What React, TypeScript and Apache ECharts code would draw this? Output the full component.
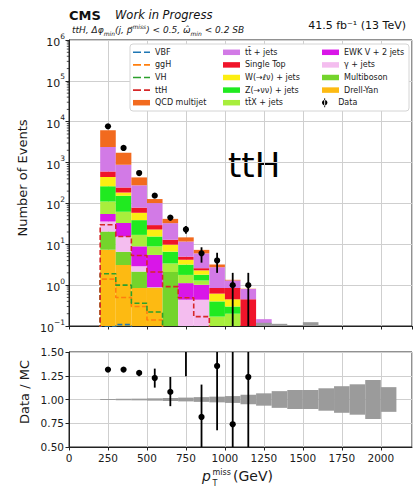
import React, { useEffect, useRef } from 'react';
import * as echarts from 'echarts';

// ---------- data ----------
const binLo = [200, 300, 400, 500, 600, 700, 800, 900, 1000, 1100, 1200];
const BIN_W = 100;

// stacked backgrounds, bottom -> top
const drellYan = [7.4, 3.1, 0.85, 0.85, 0.05, 0, 0, 0, 0, 0, 0];
const multiboson = [13.2, 3.5, 1.3, 0.02, 2.05, 0, 0, 0, 0, 0, 0];
const gammaJets = [15.4, 8.9, 0.75, 0.02, 0, 0.44, 0.44, 0, 0, 0, 0];
const ewkV2Jets = [19, 17.5, 6.0, 4.6, 0, 0.68, 0.58, 0, 0, 0, 0];
const ttXJets = [57, 30, 8.1, 3.4, 1.3, 0.66, 0.28, 0.17, 0.2, 0, 0];
const zNuNuJets = [150, 92, 22, 6.6, 3.2, 1.4, 0.5, 0.23, 0.1, 0, 0];
const wLNuJets = [181, 31, 20, 7.5, 3.2, 1.0, 0.5, 0.22, 0.15, 0, 0];
const singleTop = [162, 60, 20, 6.5, 3.1, 0.8, 0.3, 0.23, 0.4, 0.45, 0];
const ttJets = [1795, 644, 199, 72.5, 20, 6.7, 3.4, 1.9, 0.45, 0.35, 0.147];
const qcdMultijet = [3750, 840, 155, 26, 9, 3.1, 1.3, 0.45, 0.05, 0.02, 0];

// grey MC uncertainty visible at the top panel floor
const uncLo = [1200, 1300, 1500];
const uncTop = [0.12, 0.113, 0.124];

// signals (dashed step lines), starting at bin 200
const vbfSig = [0.095, 0.108, 0.09];
const ggHSig = [1.4, 0.5, 0.3, 0.14];
const vhSig = [1.9, 1.0, 0.36, 0.22];
const tthSig = [30, 15.5, 5.3, 2.1, 0.92, 0.49, 0.17];

// data
const dataX = [250, 350, 450, 550, 650, 750, 850, 950, 1050, 1150];
const dataY = [7700, 2280, 555, 155, 45, 23, 6, 4, 1, 1];
const dataLo = [7610, 2230, 530, 142, 38, 18, 3.55, 2.0, 0.05, 0.05];
const dataHi = [7790, 2330, 580, 168, 52, 28, 8.45, 6.2, 2.0, 2.0];

// ratio panel
const ratioY = [1.315, 1.315, 1.28, 1.226, 1.08, 1.6, 0.816, 1.353, 0.739, 1.237];
const ratioLo = [1.305, 1.305, 1.245, 1.125, 0.93, 1.244, 0.4, 0.676, 0.1, 0.1];
const ratioHi = [1.325, 1.325, 1.305, 1.325, 1.237, 2.0, 1.157, 2.2, 2.5, 3.0];
const bandLo = [200, 300, 400, 500, 600, 700, 800, 900, 1000, 1100, 1200, 1300, 1400, 1500, 1600, 1700, 1800, 1900, 2000];
const bandHalf = [0.005, 0.007, 0.009, 0.012, 0.016, 0.02, 0.025, 0.03, 0.036, 0.05, 0.065, 0.088, 0.1, 0.1, 0.118, 0.14, 0.16, 0.205, 0.13];

// axes
const Y_MIN = 0.1;
const Y_MAX = 1e6;
const X_MAX = 2200;
const FLOOR = 0.08;
const FONT = 'DejaVu Sans';
const TXT = '#1a1a1a';

const stackDefs = [
  { name: 'Drell-Yan', values: drellYan, color: '#fdba12' },
  { name: 'Multiboson', values: multiboson, color: '#74d42c' },
  { name: 'γ + jets', values: gammaJets, color: '#f4bdef' },
  { name: 'EWK V + 2 jets', values: ewkV2Jets, color: '#d916e8' },
  { name: 'tt̄X + jets', values: ttXJets, color: '#a8ee3c' },
  { name: 'Z(→νν) + jets', values: zNuNuJets, color: '#20ea20' },
  { name: 'W(→ℓν) + jets', values: wLNuJets, color: '#fcee12' },
  { name: 'Single Top', values: singleTop, color: '#f0142a' },
  { name: 'tt̄ + jets', values: ttJets, color: '#d27ae6' },
  { name: 'QCD multijet', values: qcdMultijet, color: '#f26a1e' },
];

const signalDefs = [
  { name: 'VBF', values: vbfSig, color: '#1f77b4' },
  { name: 'ggH', values: ggHSig, color: '#ff7f0e' },
  { name: 'VH', values: vhSig, color: '#2ca02c' },
  { name: 'ttH', values: tthSig, color: '#d62728' },
];

const DASH_ICON = 'path://M0,0h8v1.6h-8z M11,0h6v1.6h-6z';
const DATA_ICON = 'path://M2.5,0h1v10h-1z M3,2a3,3 0 1,0 0.001,0z';

function rectRenderer(color: string, yIdxMin: number) {
  return (params: any, api: any) => {
    const x0 = api.value(0);
    const x1 = api.value(1);
    const b = Math.max(api.value(2), yIdxMin);
    const t = api.value(3);
    if (!(t > yIdxMin)) return { type: 'group', children: [] };
    const p0 = api.coord([x0, b]);
    const p1 = api.coord([x1, t]);
    return {
      type: 'rect',
      shape: { x: p0[0], y: p1[1], width: p1[0] - p0[0], height: p0[1] - p1[1] },
      style: { fill: color },
    };
  };
}

function pointRenderer(params: any, api: any) {
  const x = api.value(0);
  const pc = api.coord([x, api.value(1)]);
  const pl = api.coord([x, api.value(2)]);
  const ph = api.coord([x, api.value(3)]);
  return {
    type: 'group',
    children: [
      { type: 'line', shape: { x1: pc[0], y1: pl[1], x2: pc[0], y2: ph[1] }, style: { stroke: '#000', lineWidth: 1.8 } },
      { type: 'circle', shape: { cx: pc[0], cy: pc[1], r: 3.1 }, style: { fill: '#000' } },
    ],
  };
}

function buildOption() {
  const cum = binLo.map(() => 0);
  const stackSeries = stackDefs.map((def) => {
    const data: number[][] = [];
    binLo.forEach((lo, i) => {
      const b = cum[i];
      const t = b + def.values[i];
      cum[i] = t;
      if (t > b) data.push([lo, lo + BIN_W, b, t]);
    });
    return {
      type: 'custom', name: def.name, xAxisIndex: 0, yAxisIndex: 0,
      itemStyle: { color: def.color }, renderItem: rectRenderer(def.color, Y_MIN),
      data, encode: { x: 0, y: 3 }, silent: true, z: 2, clip: true,
    };
  });

  const uncSeries = {
    type: 'custom', name: '_unc', xAxisIndex: 0, yAxisIndex: 0,
    renderItem: rectRenderer('#9a9a9a', Y_MIN),
    data: uncLo.map((lo, i) => [lo, lo + BIN_W, 0, uncTop[i]]),
    encode: { x: 0, y: 3 }, silent: true, z: 2, clip: true,
  };

  const signalSeries = signalDefs.map((def) => {
    const n = def.values.length;
    const pts: number[][] = [[binLo[0], FLOOR]];
    def.values.forEach((v, i) => pts.push([binLo[0] + BIN_W * i, v]));
    pts.push([binLo[0] + BIN_W * n, def.values[n - 1]]);
    pts.push([binLo[0] + BIN_W * n, FLOOR]);
    return {
      type: 'line', name: def.name, xAxisIndex: 0, yAxisIndex: 0, data: pts, step: 'end',
      symbol: 'none', showSymbol: false, clip: true, silent: true, z: 3,
      lineStyle: { color: def.color, width: 1.6, type: [5, 2.5] }, itemStyle: { color: def.color },
    };
  });

  const dataSeries = {
    type: 'custom', name: 'Data', xAxisIndex: 0, yAxisIndex: 0,
    itemStyle: { color: '#000' }, renderItem: pointRenderer,
    data: dataX.map((x, i) => [x, dataY[i], dataLo[i], dataHi[i]]),
    encode: { x: 0, y: 1 }, silent: true, z: 4, clip: true,
  };

  // minor log ticks on the left spine
  const minorVals: number[] = [];
  for (let e = -1; e < 6; e++) for (let m = 2; m <= 9; m++) minorVals.push(m * Math.pow(10, e));
  const minorSeries = {
    type: 'custom', name: '_minor', xAxisIndex: 0, yAxisIndex: 0,
    renderItem: (params: any, api: any) => {
      const p = api.coord([0, api.value(0)]);
      return { type: 'line', shape: { x1: p[0] - 2.2, y1: p[1], x2: p[0], y2: p[1] }, style: { stroke: '#222', lineWidth: 0.8 } };
    },
    data: minorVals.map((v) => [v]), encode: { y: 0 }, silent: true, z: 5, clip: false,
  };

  const bandSeries = {
    type: 'custom', name: '_band', xAxisIndex: 1, yAxisIndex: 1,
    renderItem: rectRenderer('#9b9b9b', -10),
    data: bandLo.map((lo, i) => [lo, lo + BIN_W, 1 - bandHalf[i], 1 + bandHalf[i]]),
    encode: { x: 0, y: 3 }, silent: true, z: 2, clip: true,
  };

  const ratioSeries = {
    type: 'custom', name: '_ratio', xAxisIndex: 1, yAxisIndex: 1,
    renderItem: pointRenderer,
    data: dataX.map((x, i) => [x, ratioY[i], ratioLo[i], ratioHi[i]]),
    encode: { x: 0, y: 1 }, silent: true, z: 4, clip: true,
  };

  const legendText = { fontSize: 8, fontFamily: FONT, color: TXT, lineHeight: 12.6 };
  const legendBase = {
    orient: 'vertical', itemWidth: 17, itemHeight: 5.5, itemGap: 0, padding: 0,
    selectedMode: false, textStyle: legendText, z: 6,
  };

  const rich = {
    b: { fontSize: 11, fontFamily: FONT, color: TXT, lineHeight: 16, verticalAlign: 'bottom' },
    e: { fontSize: 7.5, fontFamily: FONT, color: TXT, lineHeight: 9, verticalAlign: 'top' },
  };

  const sub = { fontSize: 6, fontFamily: FONT, fontStyle: 'italic', fill: TXT, verticalAlign: 'bottom', lineHeight: 6 };
  const sup = { fontSize: 6, fontFamily: FONT, fontStyle: 'italic', fill: TXT, verticalAlign: 'top', lineHeight: 6 };
  const itl = { fontSize: 9, fontFamily: FONT, fontStyle: 'italic', fill: TXT, lineHeight: 13, verticalAlign: 'middle' };

  return {
    animation: false,
    backgroundColor: '#fff',
    textStyle: { fontFamily: FONT },
    grid: [
      { left: 69, top: 40, width: 343, height: 286, show: true, borderColor: '#222', borderWidth: 1, backgroundColor: 'transparent' },
      { left: 69, top: 352, width: 343, height: 95, show: true, borderColor: '#222', borderWidth: 1, backgroundColor: 'transparent' },
    ],
    xAxis: [
      {
        type: 'value', gridIndex: 0, min: 0, max: X_MAX, interval: 250,
        axisLine: { show: true, onZero: false, lineStyle: { color: '#222', width: 1 } },
        axisTick: { show: true, length: 3.5, lineStyle: { color: '#222' } },
        axisLabel: { show: false },
        splitLine: { show: true, lineStyle: { color: '#cfcfcf', width: 1 } },
      },
      {
        type: 'value', gridIndex: 1, min: 0, max: X_MAX, interval: 250,
        axisLine: { show: true, onZero: false, lineStyle: { color: '#222', width: 1 } },
        axisTick: { show: true, length: 3.5, lineStyle: { color: '#222' } },
        axisLabel: {
          show: true, showMaxLabel: false, fontSize: 10.5, fontFamily: FONT, color: TXT, margin: 5,
          formatter: (v: number) => String(v),
        },
        splitLine: { show: true, lineStyle: { color: '#cfcfcf', width: 1 } },
      },
    ],
    yAxis: [
      {
        type: 'log', gridIndex: 0, min: Y_MIN, max: Y_MAX, logBase: 10,
        axisLine: { show: true, lineStyle: { color: '#222', width: 1 } },
        axisTick: { show: true, length: 3.5, lineStyle: { color: '#222' } },
        axisLabel: {
          margin: 4,
          formatter: (v: number) => {
            const e = Math.round(Math.log10(v));
            const es = e < 0 ? '\u2212' + -e : String(e);
            return `{b|10}{e|${es}}`;
          },
          rich,
        },
        splitLine: { show: true, lineStyle: { color: '#cfcfcf', width: 1 } },
      },
      {
        type: 'value', gridIndex: 1, min: 0.5, max: 1.5, interval: 0.25,
        axisLine: { show: true, lineStyle: { color: '#222', width: 1 } },
        axisTick: { show: true, length: 3.5, lineStyle: { color: '#222' } },
        axisLabel: { formatter: (v: number) => v.toFixed(2), fontSize: 10.5, fontFamily: FONT, color: TXT, margin: 5 },
        splitLine: { show: true, lineStyle: { color: '#cfcfcf', width: 1 } },
      },
    ],
    legend: [
      {
        ...legendBase, left: 133, top: 46,
        data: signalDefs.map((d) => ({ name: d.name, icon: DASH_ICON })).concat([{ name: 'QCD multijet', icon: 'rect' }]),
      },
      { ...legendBase, left: 223, top: 46, data: ['tt̄ + jets', 'Single Top', 'W(→ℓν) + jets', 'Z(→νν) + jets', 'tt̄X + jets'].map((n) => ({ name: n, icon: 'rect' })) },
      { ...legendBase, left: 322, top: 46, data: ['EWK V + 2 jets', 'γ + jets', 'Multiboson', 'Drell-Yan'].map((n) => ({ name: n, icon: 'rect' })) },
      {
        ...legendBase, left: 322, top: 96.4, itemHeight: 9,
        data: [{ name: 'Data', icon: DATA_ICON }],
      },
    ],
    graphic: [
      { type: 'rect', z: 5, shape: { x: 130, y: 44, width: 279, height: 67, r: 3 }, style: { fill: '#fff', stroke: '#d4d4d4', lineWidth: 1 } },
      { type: 'text', x: 69, y: 15, style: { text: 'CMS', fontSize: 13, fontWeight: 'bold', fontFamily: FONT, fill: '#111', verticalAlign: 'middle' } },
      { type: 'text', x: 115, y: 15.3, style: { text: 'Work in Progress', fontSize: 11.5, fontStyle: 'italic', fontFamily: FONT, fill: '#111', verticalAlign: 'middle' } },
      {
        type: 'text', x: 72, y: 30,
        style: {
          text: '{i|ttH, Δφ}{s|min}{i|(j, p⃗}{u|miss}{i|) < 0.5, ω̂}{s|min}{i| < 0.2 SB}',
          verticalAlign: 'middle',
          rich: { i: itl, s: sub, u: sup },
        },
      },
      { type: 'text', x: 406, y: 25.7, style: { text: '41.5 fb⁻¹ (13 TeV)', fontSize: 11, fontFamily: FONT, fill: '#111', align: 'right', verticalAlign: 'middle' } },
      { type: 'text', x: 228, y: 165, style: { text: 'ttH', fontSize: 34, fontFamily: FONT, fill: '#000', verticalAlign: 'middle' } },
      { type: 'text', x: 22.5, y: 178, rotation: Math.PI / 2, style: { text: 'Number of Events', fontSize: 13, fontFamily: FONT, fill: TXT, align: 'center', verticalAlign: 'middle' } },
      { type: 'text', x: 24, y: 392, rotation: Math.PI / 2, style: { text: 'Data / MC', fontSize: 13, fontFamily: FONT, fill: TXT, align: 'center', verticalAlign: 'middle' } },
      { type: 'text', x: 202, y: 476, style: { text: 'p', fontSize: 14, fontStyle: 'italic', fontFamily: FONT, fill: TXT, verticalAlign: 'middle' } },
      { type: 'text', x: 212.5, y: 472, style: { text: 'miss', fontSize: 8, fontFamily: FONT, fill: TXT, verticalAlign: 'middle' } },
      { type: 'text', x: 212.5, y: 483.5, style: { text: 'T', fontSize: 8, fontFamily: FONT, fill: TXT, verticalAlign: 'middle' } },
      { type: 'text', x: 233, y: 476, style: { text: '(GeV)', fontSize: 14, fontFamily: FONT, fill: TXT, verticalAlign: 'middle' } },
    ],
    series: [
      ...stackSeries,
      uncSeries,
      ...signalSeries,
      dataSeries,
      minorSeries,
      bandSeries,
      ratioSeries,
    ],
  };
}

export default function App() {
  const ref = useRef<HTMLDivElement>(null);
  useEffect(() => {
    const chart = echarts.init(ref.current as HTMLDivElement, undefined, { renderer: 'svg' });
    chart.setOption(buildOption() as any);
    return () => chart.dispose();
  }, []);
  return <div ref={ref} style={{ position: 'fixed', left: 0, top: 0, width: 414, height: 487, background: '#fff' }} />;
}
